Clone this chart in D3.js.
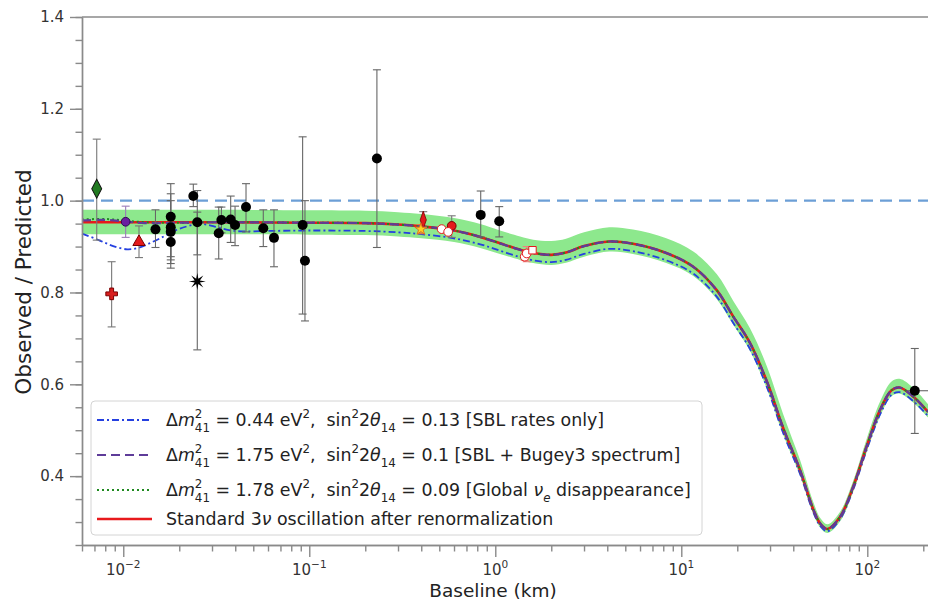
<!DOCTYPE html>
<html><head><meta charset="utf-8">
<script src="https://cdn.jsdelivr.net/npm/d3@7"></script>
<style>body{margin:0;background:#fff} text{font-family:"DejaVu Sans",sans-serif}</style>
</head><body><svg id="c" width="928" height="603"></svg>
<script>
// ---------- data ----------
const curveL   = [0.006,0.008,0.010,0.013,0.02,0.03,0.1,0.2,0.3,0.4,0.6,0.83,1.06,1.36,1.6,2.0,2.4,3.0,4.1,5.5,8.3,11.6,15.5,19,23.4,28.8,35.3,43.5,51.3,56,61,71.3,84,99,117,135,149,177,212];
const red3nu   = [0.953,0.953,0.953,0.953,0.953,0.953,0.952,0.951,0.948,0.944,0.935,0.921,0.907,0.893,0.886,0.882,0.887,0.901,0.911,0.906,0.886,0.856,0.805,0.748,0.690,0.607,0.505,0.413,0.327,0.296,0.285,0.311,0.377,0.464,0.544,0.587,0.593,0.573,0.540];
const purpleV  = [0.957,0.958,0.955,0.951,0.952,0.953,0.952,0.951,0.948,0.944,0.935,0.921,0.907,0.893,0.886,0.882,0.887,0.901,0.911,0.906,0.886,0.856,0.805,0.748,0.690,0.607,0.505,0.413,0.327,0.296,0.285,0.311,0.377,0.464,0.544,0.587,0.593,0.573,0.540];
const greenV   = [0.959,0.960,0.957,0.953,0.952,0.953,0.952,0.951,0.948,0.944,0.935,0.921,0.907,0.893,0.886,0.882,0.887,0.901,0.911,0.906,0.886,0.856,0.805,0.748,0.690,0.607,0.505,0.413,0.327,0.296,0.285,0.311,0.377,0.464,0.544,0.587,0.593,0.573,0.540];
const bandHi   = [0.980,0.980,0.980,0.980,0.980,0.980,0.979,0.978,0.975,0.971,0.962,0.949,0.935,0.922,0.915,0.912,0.917,0.931,0.942,0.937,0.918,0.889,0.840,0.782,0.722,0.640,0.535,0.435,0.343,0.308,0.295,0.322,0.390,0.480,0.562,0.606,0.612,0.592,0.557];
const bandLo   = [0.927,0.927,0.927,0.927,0.927,0.927,0.926,0.925,0.922,0.918,0.910,0.897,0.884,0.871,0.864,0.860,0.865,0.878,0.889,0.884,0.864,0.836,0.786,0.730,0.673,0.591,0.490,0.401,0.317,0.287,0.276,0.301,0.366,0.451,0.530,0.574,0.580,0.560,0.528];
const blueL    = [0.006,0.007,0.008,0.009,0.0105,0.012,0.014,0.0165,0.019,0.022,0.025,0.028,0.032,0.037,0.043,0.06,0.1,0.2,0.3,0.4,0.6,0.83,1.06,1.36,1.6,2.0,2.4,3.0,4.1,5.5,8.3,11.6,15.5,19,23.4,28.8,35.3,43.5,51.3,56,61,71.3,84,99,117,135,149,177,212];
const blueV    = [0.928,0.918,0.908,0.900,0.894,0.897,0.908,0.922,0.935,0.944,0.949,0.948,0.942,0.936,0.933,0.934,0.935,0.934,0.931,0.927,0.918,0.905,0.891,0.877,0.870,0.866,0.871,0.884,0.895,0.890,0.870,0.841,0.791,0.734,0.677,0.595,0.494,0.405,0.321,0.291,0.280,0.306,0.371,0.456,0.534,0.577,0.583,0.563,0.531];

const blackL  = [0.0149,0.018,0.018,0.018,0.018,0.0238,0.025,0.0326,0.0337,0.0378,0.0399,0.0457,0.0566,0.0646,0.0921,0.0948,0.231,0.835,1.05,180];
const blackV  = [0.9375,0.965,0.942,0.932,0.910,1.010,0.953,0.929,0.958,0.959,0.947,0.986,0.940,0.919,0.947,0.869,1.092,0.969,0.955,0.586];
const blackLo = [0.898,0.878,0.871,0.863,0.853,0.987,0.882,0.873,0.930,0.909,0.902,0.932,0.900,0.856,0.753,0.738,0.898,0.921,0.921,0.493];
const blackHi = [0.980,1.037,1.015,1.000,0.970,1.036,1.022,0.986,0.986,1.010,0.988,1.037,0.980,0.980,1.139,1.000,1.285,1.021,0.987,0.678];
const kamlandXerr = [165, 230];

const starL = 0.025, starV = 0.824, starLo = 0.675, starHi = 0.975;

const specL  = [0.0072,0.00866,0.0103,0.01215,0.41,0.398,0.583,0.515,0.558,1.44,1.476,1.585];
const specV  = [1.026,0.797,0.954,0.910,0.958,0.938,0.945,0.938,0.932,0.878,0.885,0.892];
const specLo = [0.914,0.725,0.920,0.876,0.940,0.928,0.920,0.938,0.932,0.870,0.867,0.885];
const specHi = [1.134,0.867,0.988,0.945,0.976,0.948,0.967,0.938,0.932,0.886,0.900,0.899];
const specShape = ["diamond","plus","circle","triangle","thindiamond","star","circle","circle","circle","circle","circle","square"];
const specFill  = ["#217a21","#d81e1e","#6a1fa0","#e41a1c","#e41a1c","#ffd21f","#e41a1c","#ffffff","#ffffff","#ffffff","#ffffff","#ffffff"];
const specEdge  = ["#111","#7a0000","#2a0a50","#7a0000","#7a0000","#e07020","#7a0000","#e41a1c","#e41a1c","#e41a1c","#e41a1c","#e41a1c"];
const specErr   = ["#777","#777","#9a7ab8","#777","#777","#e8803a","#777","#e41a1c","#e41a1c","#f08080","#f08080","#f08080"];

const yMajor = [0.4,0.6,0.8,1.0,1.2,1.4];
const xMajor = [0.01,0.1,1,10,100];
const xMajorLabel = ["−2","−1","0","1","2"];

const legendItems = [
  {color:"#2540e0", dash:"7,3,2,3", w:1.8, segs:[{t:"Δ"},{t:"m",it:1},{sup:"2",sub:"41"},{t:" = 0.44 eV"},{sup:"2"},{t:",  sin"},{sup:"2"},{t:"2"},{t:"θ",it:1},{sub:"14"},{t:" = 0.13 [SBL rates only]"}]},
  {color:"#5e3c99", dash:"9,5", w:2.2, segs:[{t:"Δ"},{t:"m",it:1},{sup:"2",sub:"41"},{t:" = 1.75 eV"},{sup:"2"},{t:",  sin"},{sup:"2"},{t:"2"},{t:"θ",it:1},{sub:"14"},{t:" = 0.1 [SBL + Bugey3 spectrum]"}]},
  {color:"#1f8a1f", dash:"2,3", w:2, segs:[{t:"Δ"},{t:"m",it:1},{sup:"2",sub:"41"},{t:" = 1.78 eV"},{sup:"2"},{t:",  sin"},{sup:"2"},{t:"2"},{t:"θ",it:1},{sub:"14"},{t:" = 0.09 [Global "},{t:"ν",it:1},{sub:"e",it:1},{t:" disappearance]"}]},
  {color:"#e8191c", dash:null, w:2.6, segs:[{t:"Standard 3"},{t:"ν",it:1},{t:" oscillation after renormalization"}]}
];

// ---------- scales ----------
const xs = d3.scaleLog().domain([0.006, 212]).range([82, 928]);
const ys = d3.scaleLinear().domain([0.25, 1.4]).range([545, 17]);
const svg = d3.select("#c");
const axisColor = "#8a8a8a";

// band
const idx = d3.range(curveL.length);
svg.append("path").datum(idx)
  .attr("d", d3.area().x(i=>xs(curveL[i])).y0(i=>ys(bandLo[i])).y1(i=>ys(bandHi[i])).curve(d3.curveCatmullRom))
  .attr("fill","#8de88d");

// reference line at 1.0
svg.append("line").attr("x1",xs(0.006)).attr("x2",xs(212)).attr("y1",ys(1)).attr("y2",ys(1))
  .attr("stroke","#6c9fd6").attr("stroke-width",2.2).attr("stroke-dasharray","12,7");

function drawCurve(L, V, color, w, dash){
  const p = svg.append("path").datum(d3.range(L.length))
    .attr("d", d3.line().x(i=>xs(L[i])).y(i=>ys(V[i])).curve(d3.curveCatmullRom))
    .attr("fill","none").attr("stroke",color).attr("stroke-width",w);
  if(dash) p.attr("stroke-dasharray",dash);
}
drawCurve(blueL, blueV, legendItems[0].color, 1.8, legendItems[0].dash);
drawCurve(curveL, red3nu, legendItems[3].color, 2.6, null);
drawCurve(curveL, greenV, legendItems[2].color, 2, legendItems[2].dash);
drawCurve(curveL, purpleV, legendItems[1].color, 2.2, legendItems[1].dash);

// error bars
function errBar(L, lo, hi, color){
  const x = xs(L);
  const g = svg.append("g").attr("stroke",color).attr("stroke-width",1.1);
  g.append("line").attr("x1",x).attr("x2",x).attr("y1",ys(lo)).attr("y2",ys(hi));
  g.append("line").attr("x1",x-4).attr("x2",x+4).attr("y1",ys(lo)).attr("y2",ys(lo));
  g.append("line").attr("x1",x-4).attr("x2",x+4).attr("y1",ys(hi)).attr("y2",ys(hi));
}
blackL.forEach((L,i)=>errBar(L, blackLo[i], blackHi[i], "#666"));
errBar(starL, starLo, starHi, "#666");
specL.forEach((L,i)=>{ if(specHi[i]-specLo[i]>0.001) errBar(L, specLo[i], specHi[i], specErr[i]); });
// horizontal error bar of far point
svg.append("line").attr("x1",xs(kamlandXerr[0])).attr("x2",xs(kamlandXerr[1]))
  .attr("y1",ys(blackV[19])).attr("y2",ys(blackV[19])).attr("stroke","#666").attr("stroke-width",1.1);

// black circles
blackL.forEach((L,i)=>svg.append("circle").attr("cx",xs(L)).attr("cy",ys(blackV[i])).attr("r",5).attr("fill","#000"));
// black asterisk-star
(function(){
  const pts=[]; for(let k=0;k<16;k++){const r=k%2?2.8:8.5; const a=k*Math.PI/8-Math.PI/2; pts.push([r*Math.cos(a),r*Math.sin(a)]);}
  svg.append("path").attr("d","M"+pts.map(p=>p.join(",")).join("L")+"Z")
    .attr("transform",`translate(${xs(starL)},${ys(starV)})`).attr("fill","#000");
})();
// special markers
const symType = {diamond:d3.symbolDiamond, plus:d3.symbolCross, circle:d3.symbolCircle, triangle:d3.symbolTriangle, thindiamond:d3.symbolDiamond, star:d3.symbolStar, square:d3.symbolSquare};
const symSize = {diamond:95, plus:75, circle:60, triangle:65, thindiamond:90, star:45, square:55};
specL.forEach((L,i)=>{
  const sh = specShape[i];
  let tr = `translate(${xs(L)},${ys(specV[i])})`;
  if(sh==="thindiamond") tr += " scale(0.6,1)";
  if(sh==="diamond") tr += " scale(0.95,1.05)";
  svg.append("path").attr("d", d3.symbol().type(symType[sh]).size(symSize[sh])())
    .attr("transform",tr).attr("fill",specFill[i]).attr("stroke",specEdge[i]).attr("stroke-width",1);
});

// ---------- axes ----------
const minorX = [];
for(let e=-3;e<=2;e++) for(let k=2;k<=9;k++){const v=k*Math.pow(10,e); if(v>=0.006 && v<=212) minorX.push(v);}
const gx = svg.append("g").attr("transform","translate(0,545)");
gx.call(d3.axisBottom(xs).tickValues(minorX).tickSize(6.5).tickSizeOuter(0).tickFormat(""));
gx.call(g=>g.append("g").call(d3.axisBottom(xs).tickValues(xMajor).tickSize(12).tickSizeOuter(0).tickFormat("")));
gx.selectAll("path,line").attr("stroke",axisColor).attr("stroke-width",1.4);
xMajor.forEach((v,i)=>{
  const t = svg.append("text").attr("x",xs(v)).attr("y",575).attr("text-anchor","middle").attr("font-size",15).attr("fill","#333");
  t.append("tspan").text("10");
  t.append("tspan").attr("dy",-7).attr("font-size",10.5).text(xMajorLabel[i]);
});

const minorY = d3.range(0.25,1.4001,0.05).map(v=>+v.toFixed(2));
const gy = svg.append("g").attr("transform","translate(82,0)");
gy.call(d3.axisLeft(ys).tickValues(minorY).tickSize(6.5).tickSizeOuter(0).tickFormat(""));
gy.call(g=>g.append("g").call(d3.axisLeft(ys).tickValues(yMajor).tickSize(12).tickSizeOuter(0).tickFormat(d3.format(".1f"))));
gy.selectAll("path,line").attr("stroke",axisColor).attr("stroke-width",1.4);
gy.selectAll("text").attr("font-size",15).attr("fill","#333").attr("font-family","DejaVu Sans").attr("x",-18);
// top spine
svg.append("line").attr("x1",82).attr("x2",928).attr("y1",17).attr("y2",17).attr("stroke",axisColor).attr("stroke-width",1.4);

// axis labels
svg.append("text").attr("x",493).attr("y",597).attr("text-anchor","middle").attr("font-size",18.5).attr("fill","#222").text("Baseline (km)");
svg.append("text").attr("transform","translate(31,282) rotate(-90)").attr("text-anchor","middle").attr("font-size",21.5).attr("fill","#222").text("Observed / Predicted");

// ---------- legend ----------
const lg = svg.append("g");
lg.append("rect").attr("x",91).attr("y",401).attr("width",611).attr("height",134).attr("rx",4)
  .attr("fill","#fff").attr("fill-opacity",0.85).attr("stroke","#d4d4d4");
const rowsY = [420,455,490,519];
function mathText(x, y, segs, fs){
  const t = lg.append("text").attr("x",x).attr("y",y).attr("font-size",fs).attr("fill","#222").style("white-space","pre");
  let off = 0;
  segs.forEach(s=>{
    if(s.sup!==undefined || s.sub!==undefined){
      if(s.sup!==undefined){const tg=-0.48*fs; t.append("tspan").attr("dy",tg-off).attr("font-size",fs*0.68).text(s.sup); off=tg;}
      if(s.sub!==undefined){const tg=0.33*fs; const ts=t.append("tspan").attr("dy",tg-off).attr("font-size",fs*0.68).text(s.sub); if(s.it) ts.attr("font-style","italic"); if(s.sup!==undefined) ts.attr("dx",-s.sup.length*0.636*fs*0.68); off=tg;}
    } else {
      const ts=t.append("tspan").attr("dy",-off).text(s.t); if(s.it) ts.attr("font-style","italic"); off=0;
    }
  });
}
legendItems.forEach((it,i)=>{
  const y = rowsY[i];
  const l = lg.append("line").attr("x1",97).attr("x2",152).attr("y1",y).attr("y2",y).attr("stroke",it.color).attr("stroke-width",it.w);
  if(it.dash) l.attr("stroke-dasharray",it.dash);
  mathText(166, y+6, it.segs, 17.4);
});
</script></body></html>
